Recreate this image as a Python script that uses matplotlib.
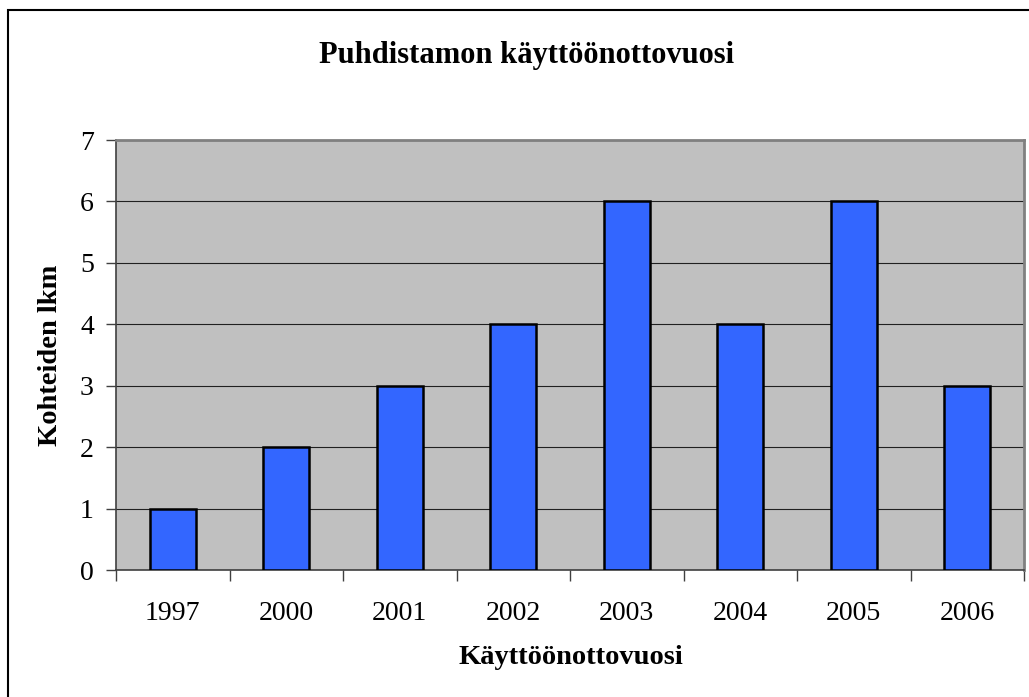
import matplotlib
matplotlib.use("Agg")
import matplotlib.pyplot as plt
from matplotlib.patches import Rectangle

categories = ["1997", "2000", "2001", "2002", "2003", "2004", "2005", "2006"]
values = [1, 2, 3, 4, 6, 4, 6, 3]
yticks = [0, 1, 2, 3, 4, 5, 6, 7]

W, H = 1029, 697
fig = plt.figure(figsize=(W / 100, H / 100), dpi=100)
plt.rcParams['font.family'] = ['Liberation Serif', 'DejaVu Serif']

# outer chart border (only left/top visible in the reference)
fig.patches.append(Rectangle((8 / W, -0.1), 1.2, 1 - 10 / H + 0.1,
                             transform=fig.transFigure, fill=False,
                             edgecolor='black', linewidth=1.5))

left, right, top, bottom = 116, 1024, 140, 570
ax = fig.add_axes([left / W, 1 - bottom / H, (right - left) / W, (bottom - top) / H])
ax.set_facecolor('#c0c0c0')

x = list(range(len(categories)))
ax.bar(x, values, width=0.405, color='#3366ff', edgecolor='black', linewidth=1.8, zorder=3)

ax.set_xlim(-0.5, len(categories) - 0.5)
ax.set_ylim(0, 7)
ax.set_yticks(yticks)
ax.set_yticklabels([str(v) for v in yticks], fontsize=20)
ax.yaxis.grid(True, color='#202020', linewidth=0.8, zorder=1)
ax.set_axisbelow(True)

ax.set_xticks([i - 0.5 for i in range(len(categories) + 1)], minor=False)
ax.set_xticklabels([])
ax.set_xticks(x, minor=True)
ax.set_xticklabels(categories, minor=True, fontsize=20)
ax.tick_params(axis='x', which='major', direction='out', length=8, width=1, color='#404040')
ax.tick_params(axis='x', which='minor', length=0, pad=22)
ax.tick_params(axis='y', direction='out', length=7, width=1, color='#404040', pad=9)

for s in ['top', 'right']:
    ax.spines[s].set_color('#808080')
    ax.spines[s].set_linewidth(2)
for s in ['left', 'bottom']:
    ax.spines[s].set_color('#404040')
    ax.spines[s].set_linewidth(1.2)

fig.text(527 / W, 1 - 55 / H, "Puhdistamon käyttöönottovuosi", ha='center', va='center',
         fontsize=22, fontweight='bold')
fig.text(571 / W, 1 - 658 / H, "Käyttöönottovuosi", ha='center', va='center',
         fontsize=20.5, fontweight='bold')
fig.text(51 / W, 1 - 355 / H, "Kohteiden lkm", ha='center', va='center',
         fontsize=20.5, fontweight='bold', rotation=90)

fig.savefig("out.png", dpi=100)
